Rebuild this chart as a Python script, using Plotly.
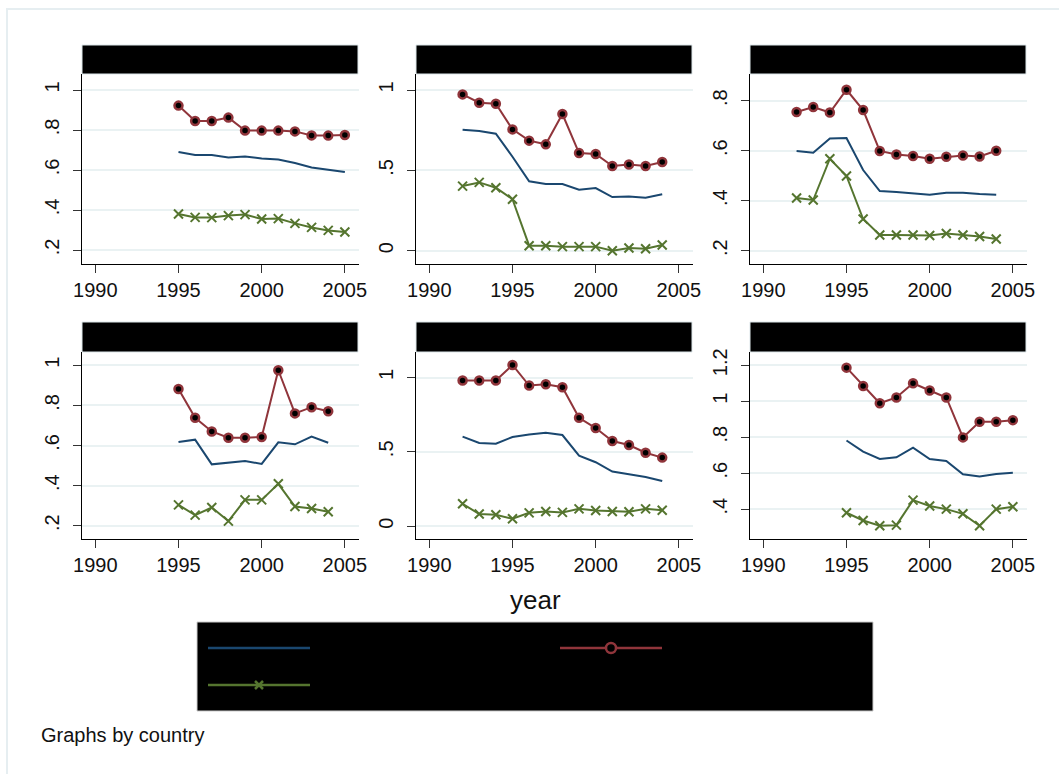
import plotly.graph_objects as go

# ---------------- data ----------------
years_95_05 = list(range(1995, 2006))
years_92_04 = list(range(1992, 2005))
years_95_04 = list(range(1995, 2005))

# panel 1
p1_years = years_95_05
p1_blue = [0.690, 0.675, 0.675, 0.662, 0.668, 0.657, 0.653, 0.635, 0.613, 0.602, 0.590]
p1_red = [0.922, 0.845, 0.845, 0.862, 0.797, 0.797, 0.797, 0.793, 0.773, 0.772, 0.775]
p1_green = [0.380, 0.363, 0.362, 0.372, 0.377, 0.355, 0.357, 0.333, 0.313, 0.298, 0.290]

# panel 2
p2_years = years_92_04
p2_blue = [0.753, 0.745, 0.728, 0.585, 0.432, 0.415, 0.415, 0.380, 0.390, 0.334, 0.338, 0.330, 0.351]
p2_red = [0.973, 0.921, 0.915, 0.755, 0.685, 0.662, 0.851, 0.608, 0.602, 0.527, 0.537, 0.527, 0.552]
p2_green = [0.402, 0.425, 0.392, 0.320, 0.031, 0.031, 0.025, 0.025, 0.025, 0.000, 0.017, 0.012, 0.035]

# panel 3
p3_years = years_92_04
p3_blue = [0.599, 0.592, 0.649, 0.651, 0.523, 0.439, 0.435, 0.429, 0.424, 0.432, 0.432, 0.427, 0.424]
p3_red = [0.755, 0.775, 0.753, 0.844, 0.763, 0.599, 0.585, 0.579, 0.568, 0.576, 0.581, 0.577, 0.600]
p3_green = [0.411, 0.403, 0.568, 0.499, 0.327, 0.263, 0.263, 0.263, 0.261, 0.269, 0.263, 0.257, 0.247]

# panel 4
p4_years = years_95_04
p4_blue = [0.617, 0.629, 0.506, 0.513, 0.523, 0.508, 0.616, 0.606, 0.644, 0.614]
p4_red = [0.882, 0.738, 0.670, 0.639, 0.639, 0.642, 0.975, 0.760, 0.791, 0.771]
p4_green = [0.304, 0.253, 0.291, 0.223, 0.329, 0.329, 0.409, 0.296, 0.286, 0.270]

# panel 5
p5_years = years_92_04
p5_blue = [0.602, 0.559, 0.555, 0.600, 0.617, 0.629, 0.613, 0.474, 0.430, 0.367, 0.349, 0.331, 0.304]
p5_red = [0.980, 0.980, 0.980, 1.085, 0.946, 0.955, 0.935, 0.729, 0.660, 0.573, 0.546, 0.494, 0.461]
p5_green = [0.150, 0.081, 0.076, 0.049, 0.089, 0.098, 0.092, 0.116, 0.105, 0.098, 0.096, 0.116, 0.107]

# panel 6
p6_years = years_95_05
p6_blue = [0.782, 0.720, 0.679, 0.688, 0.742, 0.679, 0.668, 0.594, 0.581, 0.596, 0.603]
p6_red = [1.187, 1.085, 0.989, 1.021, 1.100, 1.060, 1.021, 0.799, 0.886, 0.886, 0.895]
p6_green = [0.380, 0.337, 0.308, 0.311, 0.450, 0.418, 0.400, 0.374, 0.308, 0.400, 0.413]

x_ticks = [1990, 1995, 2000, 2005]
y_ticks_p1 = [0.2, 0.4, 0.6, 0.8, 1.0]
y_labels_p1 = [".2", ".4", ".6", ".8", "1"]
y_ticks_p2 = [0, 0.5, 1.0]
y_labels_p2 = ["0", ".5", "1"]
y_ticks_p3 = [0.2, 0.4, 0.6, 0.8]
y_labels_p3 = [".2", ".4", ".6", ".8"]
y_ticks_p4 = [0.2, 0.4, 0.6, 0.8, 1.0]
y_labels_p4 = [".2", ".4", ".6", ".8", "1"]
y_ticks_p5 = [0, 0.5, 1.0]
y_labels_p5 = ["0", ".5", "1"]
y_ticks_p6 = [0.4, 0.6, 0.8, 1.0, 1.2]
y_labels_p6 = [".4", ".6", ".8", "1", "1.2"]

panels = [
    (p1_years, p1_blue, p1_red, p1_green, y_ticks_p1, y_labels_p1, [0.13, 1.08]),
    (p2_years, p2_blue, p2_red, p2_green, y_ticks_p2, y_labels_p2, [-0.083, 1.10]),
    (p3_years, p3_blue, p3_red, p3_green, y_ticks_p3, y_labels_p3, [0.147, 0.907]),
    (p4_years, p4_blue, p4_red, p4_green, y_ticks_p4, y_labels_p4, [0.134, 1.066]),
    (p5_years, p5_blue, p5_red, p5_green, y_ticks_p5, y_labels_p5, [-0.087, 1.172]),
    (p6_years, p6_blue, p6_red, p6_green, y_ticks_p6, y_labels_p6, [0.234, 1.274]),
]

# ---------------- layout geometry (pixels) ----------------
W, H = 1059, 774
BLUE = "#1a476f"
RED = "#90353b"
GREEN = "#55752f"
GRID = "#eaf2f3"
FONT = "Liberation Sans, Arial, sans-serif"

col_x = [(82, 359), (416, 693), (750, 1027)]
row_plot = [(74, 264), (352, 539)]
row_title = [(45, 74), (322, 352)]


def px(x):
    return x / W


def py(y):
    return 1 - y / H


fig = go.Figure()
shapes = []
layout_axes = {}

for i, (yrs, blue, red, green, yt, yl, yr) in enumerate(panels):
    r, c = divmod(i, 3)
    n = i + 1
    xa = "x" if n == 1 else f"x{n}"
    ya = "y" if n == 1 else f"y{n}"
    fig.add_trace(go.Scatter(x=yrs, y=blue, mode="lines", xaxis=xa, yaxis=ya,
                             line=dict(color=BLUE, width=2), showlegend=False,
                             hoverinfo="skip"))
    fig.add_trace(go.Scatter(x=yrs, y=red, mode="lines+markers", xaxis=xa, yaxis=ya,
                             line=dict(color=RED, width=2),
                             marker=dict(symbol="circle", size=8, color="black",
                                         line=dict(color=RED, width=2.5)),
                             showlegend=False, hoverinfo="skip"))
    fig.add_trace(go.Scatter(x=yrs, y=green, mode="lines+markers", xaxis=xa, yaxis=ya,
                             line=dict(color=GREEN, width=2),
                             marker=dict(symbol="x-thin", size=9, color=GREEN,
                                         line=dict(color=GREEN, width=2)),
                             showlegend=False, hoverinfo="skip"))
    x0, x1 = col_x[c]
    t, b = row_plot[r]
    xkey = "xaxis" if n == 1 else f"xaxis{n}"
    ykey = "yaxis" if n == 1 else f"yaxis{n}"
    layout_axes[xkey] = dict(
        domain=[px(x0), px(x1)], anchor=ya, range=[1989.2, 2005.85],
        tickvals=x_ticks, ticks="outside", ticklen=8, tickcolor="#333333",
        showline=True, linecolor="black", linewidth=1, showgrid=False,
        zeroline=False, automargin=False,
        tickfont=dict(family=FONT, size=20, color="#111111"),
    )
    layout_axes[ykey] = dict(
        domain=[py(b), py(t)], anchor=xa, range=yr,
        tickvals=yt, ticktext=yl, tickangle=-90, ticks="outside", ticklen=8,
        tickcolor="#333333", showline=True, linecolor="black", linewidth=1,
        showgrid=True, gridcolor=GRID, gridwidth=2, zeroline=False,
        automargin=False, ticklabelstandoff=6,
        tickfont=dict(family=FONT, size=20, color="#111111"),
    )
    tt, tb = row_title[r]
    shapes.append(dict(type="rect", xref="paper", yref="paper",
                       x0=px(x0), x1=px(x1 - 1), y0=py(tb), y1=py(tt),
                       fillcolor="black", line=dict(color="#dde7ea", width=1)))

# outer frame
shapes.append(dict(type="rect", xref="paper", yref="paper", layer="below",
                   x0=px(7), x1=px(W + 20), y0=py(H + 20), y1=py(9),
                   fillcolor="rgba(0,0,0,0)", line=dict(color="#e6eef1", width=2)))

# legend box
shapes.append(dict(type="rect", xref="paper", yref="paper",
                   x0=px(197), x1=px(873), y0=py(711), y1=py(622),
                   fillcolor="black", line=dict(color="#cccccc", width=1)))
shapes.append(dict(type="line", xref="paper", yref="paper",
                   x0=px(208), x1=px(310), y0=py(648), y1=py(648),
                   line=dict(color=BLUE, width=2.5)))
shapes.append(dict(type="line", xref="paper", yref="paper",
                   x0=px(560), x1=px(662), y0=py(648), y1=py(648),
                   line=dict(color=RED, width=2.5)))
shapes.append(dict(type="circle", xref="paper", yref="paper",
                   x0=px(606), x1=px(616), y0=py(653), y1=py(643),
                   fillcolor="black", line=dict(color=RED, width=2.5)))
shapes.append(dict(type="line", xref="paper", yref="paper",
                   x0=px(208), x1=px(310), y0=py(685), y1=py(685),
                   line=dict(color=GREEN, width=2.5)))
shapes.append(dict(type="line", xref="paper", yref="paper",
                   x0=px(255), x1=px(263), y0=py(681), y1=py(689),
                   line=dict(color=GREEN, width=2.5)))
shapes.append(dict(type="line", xref="paper", yref="paper",
                   x0=px(255), x1=px(263), y0=py(689), y1=py(681),
                   line=dict(color=GREEN, width=2.5)))

annotations = [
    dict(text="year", xref="paper", yref="paper", x=px(535), y=py(600),
         xanchor="center", yanchor="middle", showarrow=False,
         font=dict(family=FONT, size=26, color="#111111")),
    dict(text="Graphs by country", xref="paper", yref="paper", x=px(39), y=py(735),
         xanchor="left", yanchor="middle", showarrow=False,
         font=dict(family=FONT, size=20, color="#111111")),
]

fig.update_layout(
    width=W, height=H, margin=dict(l=0, r=0, t=0, b=0, autoexpand=False),
    autosize=False,
    paper_bgcolor="white", plot_bgcolor="white",
    shapes=shapes, annotations=annotations, showlegend=False,
    **layout_axes,
)

fig.write_html(
    "out.html",
    config={"responsive": False, "displayModeBar": False},
    post_script="document.body.style.margin='0';document.body.style.overflow='hidden';",
)
